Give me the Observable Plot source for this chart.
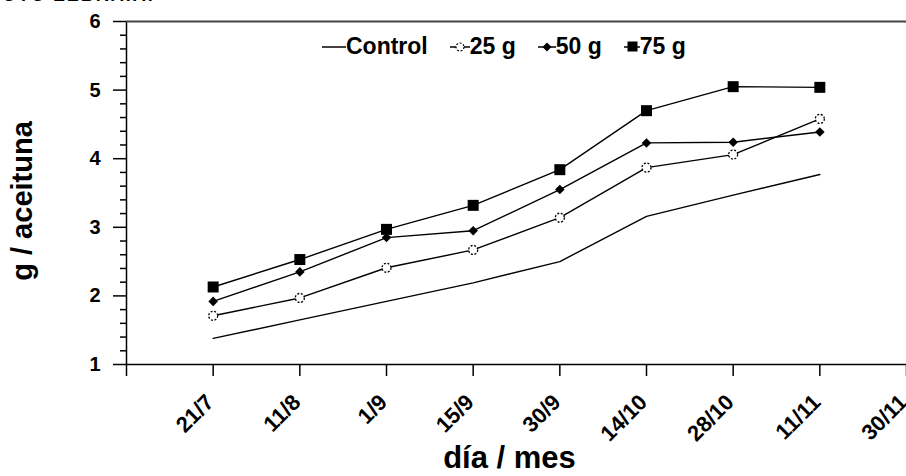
<!DOCTYPE html>
<html>
<head>
<meta charset="utf-8">
<script src="https://cdn.jsdelivr.net/npm/d3@7"></script>
<script src="https://cdn.jsdelivr.net/npm/@observablehq/plot@0.6"></script>
<style>
  html, body { margin: 0; padding: 0; background: #fff; overflow: hidden; }
  #wrap { position: relative; width: 906px; height: 476px; overflow: hidden; font-family: "Liberation Sans", Arial, sans-serif; font-weight: bold; }
  #cut { position: absolute; left: 2px; top: -15px; font-size: 18px; letter-spacing: 2px; color: #000; }
  #legend { position: absolute; left: 322px; top: 33px; display: flex; align-items: center; font-size: 23px; color: #000; white-space: nowrap; }
  #legend .item { display: flex; align-items: center; margin-right: 22px; }
  #legend svg { display: block; }
</style>
</head>
<body>
<div id="wrap">
  <div id="chart"></div>
  <div id="cut">OTO ZEBRA.A.</div>
  <div id="legend"></div>
</div>
<script>
// ---- data ----
const dates = ["21/7", "11/8", "1/9", "15/9", "30/9", "14/10", "28/10", "11/11", "30/11"];
const seriesNames = ["Control", "25 g", "50 g", "75 g"];
const control = [1.38, 1.65, 1.92, 2.19, 2.50, 3.16, 3.47, 3.77];
const g25 = [1.71, 1.97, 2.41, 2.67, 3.14, 3.87, 4.06, 4.58];
const g50 = [1.92, 2.35, 2.85, 2.95, 3.55, 4.23, 4.24, 4.39];
const g75 = [2.13, 2.53, 2.97, 3.32, 3.84, 4.70, 5.05, 5.04];
const yMajor = [1, 2, 3, 4, 5, 6];
const yMinor = [1.2, 1.4, 1.6, 1.8, 2.2, 2.4, 2.6, 2.8, 3.2, 3.4, 3.6, 3.8, 4.2, 4.4, 4.6, 4.8, 5.2, 5.4, 5.6, 5.8];

const valuesBySeries = [control, g25, g50, g75];
const rows = [];
valuesBySeries.forEach((vals, s) => vals.forEach((v, i) => rows.push({pos: i + 1, date: dates[i], value: v, series: seriesNames[s]})));
const labelRows = dates.map((d, i) => ({pos: i + 1, label: d}));
const xTicks = d3.range(0, dates.length + 1);

const font = "Liberation Sans, Arial, sans-serif";

const chart = Plot.plot({
  width: 906,
  height: 476,
  marginLeft: 126,
  marginRight: 0,
  marginTop: 21,
  marginBottom: 112,
  x: {domain: [0, dates.length], axis: null},
  y: {domain: [1, 6], axis: null},
  style: {fontFamily: font, fontWeight: "bold", color: "#000", background: "#fff", overflow: "hidden"},
  marks: [
    Plot.axisY({ticks: yMajor, tickSize: 13, tickPadding: 13, fontSize: 20, fontWeight: "bold", label: null, strokeWidth: 1.5, tickFormat: d3.format("d")}),
    Plot.axisY({ticks: yMinor, tickSize: 6, text: null, label: null, strokeWidth: 1.5}),
    Plot.axisX({ticks: xTicks, tickSize: 12, text: null, label: null, strokeWidth: 1.5}),
    Plot.ruleX([0], {y1: 1, y2: 6, stroke: "#000", strokeWidth: 1.5}),
    Plot.ruleY([1], {stroke: "#000", strokeWidth: 1.5}),
    Plot.ruleY([6], {stroke: "#444", strokeWidth: 2}),
    Plot.line(rows, {x: "pos", y: "value", z: "series", stroke: "#000", strokeWidth: 1.4}),
    Plot.dot(rows.filter(d => d.series === "75 g"), {x: "pos", y: "value", symbol: "square", r: 6.2, fill: "#000", stroke: "none"}),
    Plot.dot(rows.filter(d => d.series === "50 g"), {x: "pos", y: "value", symbol: "diamond2", r: 4.3, fill: "#000", stroke: "none"}),
    Plot.dot(rows.filter(d => d.series === "25 g"), {x: "pos", y: "value", symbol: "circle", r: 4.5, fill: "#fff", stroke: "#000", strokeWidth: 1.3, strokeDasharray: "2,1.6"}),
    Plot.text(labelRows, {x: "pos", frameAnchor: "bottom", text: "label", rotate: -45, textAnchor: "end", lineAnchor: "bottom", dx: 2, dy: 39, fontSize: 22, fontWeight: "bold", fill: "#000"}),
    Plot.text(["g / aceituna"], {frameAnchor: "left", textAnchor: "middle", rotate: -90, dx: -104, dy: 8, fontSize: 29, fontWeight: "bold", fill: "#000"}),
    Plot.text(["día / mes"], {frameAnchor: "bottom", dx: -7, dy: 103, fontSize: 31, fontWeight: "bold", fill: "#000"})
  ]
});
document.getElementById("chart").appendChild(chart);

// ---- legend ----
const legend = document.getElementById("legend");
const symbolSvg = {
  "Control": `<svg width="24" height="20"><line x1="0" y1="10" x2="24" y2="10" stroke="#000" stroke-width="1.5"/></svg>`,
  "25 g": `<svg width="20" height="20"><line x1="0" y1="10" x2="20" y2="10" stroke="#000" stroke-width="1.5"/><circle cx="10" cy="10" r="4" fill="#fff" stroke="#000" stroke-width="1.2" stroke-dasharray="2,1.6"/></svg>`,
  "50 g": `<svg width="18" height="20"><line x1="0" y1="10" x2="18" y2="10" stroke="#000" stroke-width="1.5"/><path d="M9,5.5L13.5,10L9,14.5L4.5,10Z" fill="#000"/></svg>`,
  "75 g": `<svg width="16" height="20"><line x1="0" y1="10" x2="16" y2="10" stroke="#000" stroke-width="1.5"/><rect x="3.5" y="4.5" width="10" height="10" fill="#000"/></svg>`
};
seriesNames.forEach(name => {
  const item = document.createElement("div");
  item.className = "item";
  item.innerHTML = symbolSvg[name] + `<span>${name}</span>`;
  legend.appendChild(item);
});
</script>
</body>
</html>
